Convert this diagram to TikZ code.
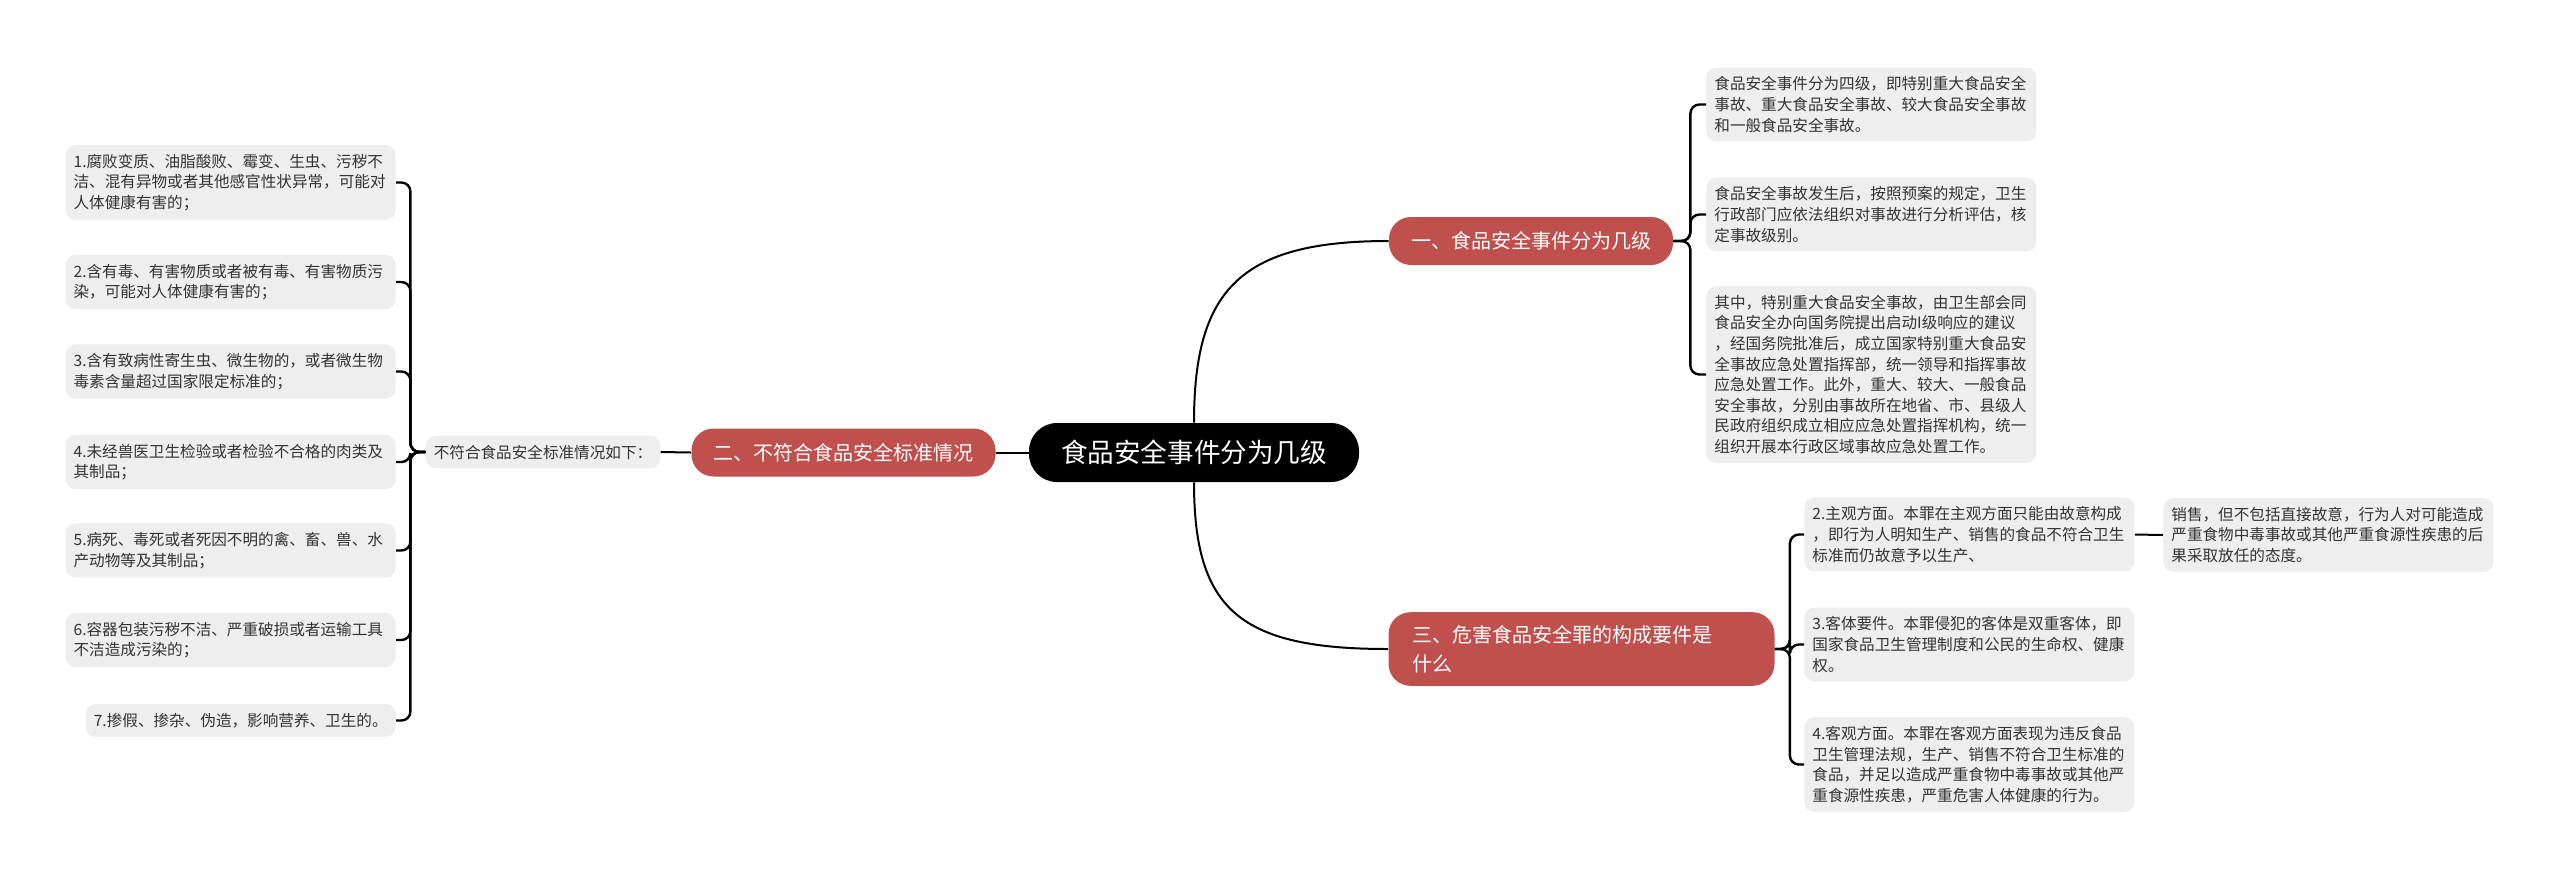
\documentclass[tikz,border=0pt]{standalone}
\usepackage{fontspec}
\setmainfont{Noto Sans CJK SC}
\usepackage{tikz}
\definecolor{branchbg}{HTML}{C0504D}
\definecolor{leafbg}{HTML}{EEEEEE}
\definecolor{leaftext}{HTML}{333333}

\begin{document}
\begin{tikzpicture}[x=0.5pt,y=0.5pt,
  link/.style={line width=1pt},
  bracket/.style={line width=1.2pt,rounded corners=4.5pt},
  rootbox/.style={fill=black,text=white,rounded corners=14pt,minimum height=29.5pt,
    inner xsep=16pt,font=\fontsize{13.3pt}{16pt}\selectfont},
  branchbox/.style={fill=branchbg,text=white,rounded corners=11pt,minimum height=24pt,
    inner xsep=11pt,font=\fontsize{10pt}{14.5pt}\selectfont},
  leafbox/.style={fill=leafbg,text=leaftext,rounded corners=5pt,inner xsep=4pt,
    inner ysep=4.5pt,font=\fontsize{7.8pt}{10.3pt}\selectfont},
  wideleaf/.style={leafbox,text width=157pt,align=left}]
\fill[white] (0,0) rectangle (2560,-880);
\useasboundingbox (0,0) rectangle (2560,-880);

% centre and the three topics
\node[rootbox] (root) at (1194,-452.5) {食品安全事件分为几级};
\node[branchbox] (b1) at (1531,-241) {一、食品安全事件分为几级};
\node[branchbox] (b2) at (843.5,-452.5) {二、不符合食品安全标准情况};
\node[branchbox,text width=169pt,align=left,inner xsep=12pt,inner ysep=6.5pt] (b3)
  at (1581.5,-649) {三、危害食品安全罪的构成要件是\\什么};

% topic one
\node[wideleaf,anchor=west] (e1) at (1706,-104.5) {食品安全事件分为四级，即特别重大食品安全\\事故、重大食品安全事故、较大食品安全事故\\和一般食品安全事故。};
\node[wideleaf,anchor=west] (e2) at (1706,-214.5) {食品安全事故发生后，按照预案的规定，卫生\\行政部门应依法组织对事故进行分析评估，核\\定事故级别。};
\node[wideleaf,anchor=west] (e3) at (1706,-374.5) {其中，特别重大食品安全事故，由卫生部会同\\食品安全办向国务院提出启动I级响应的建议\\，经国务院批准后，成立国家特别重大食品安\\全事故应急处置指挥部，统一领导和指挥事故\\应急处置工作。此外，重大、较大、一般食品\\安全事故，分别由事故所在地省、市、县级人\\民政府组织成立相应应急处置指挥机构，统一\\组织开展本行政区域事故应急处置工作。};

% topic two
\node[leafbox] (intro) at (543,-452) {不符合食品安全标准情况如下：};
\node[wideleaf,anchor=east] (s1) at (396,-182.5) {1.腐败变质、油脂酸败、霉变、生虫、污秽不\\洁、混有异物或者其他感官性状异常，可能对\\人体健康有害的；};
\node[wideleaf,anchor=east] (s2) at (396,-282) {2.含有毒、有害物质或者被有毒、有害物质污\\染，可能对人体健康有害的；};
\node[wideleaf,anchor=east] (s3) at (396,-371.5) {3.含有致病性寄生虫、微生物的，或者微生物\\毒素含量超过国家限定标准的；};
\node[wideleaf,anchor=east] (s4) at (396,-462) {4.未经兽医卫生检验或者检验不合格的肉类及\\其制品；};
\node[wideleaf,anchor=east] (s5) at (396,-550.5) {5.病死、毒死或者死因不明的禽、畜、兽、水\\产动物等及其制品；};
\node[wideleaf,anchor=east] (s6) at (396,-640) {6.容器包装污秽不洁、严重破损或者运输工具\\不洁造成污染的；};
\node[leafbox,anchor=east] (s7) at (396,-720.5) {7.掺假、掺杂、伪造，影响营养、卫生的。};

% topic three
\node[wideleaf,anchor=west] (t1) at (1804,-534.5) {2.主观方面。本罪在主观方面只能由故意构成\\，即行为人明知生产、销售的食品不符合卫生\\标准而仍故意予以生产、};
\node[wideleaf,anchor=west] (t1x) at (2163,-535) {销售，但不包括直接故意，行为人对可能造成\\严重食物中毒事故或其他严重食源性疾患的后\\果采取放任的态度。};
\node[wideleaf,anchor=west] (t2) at (1804,-644.5) {3.客体要件。本罪侵犯的客体是双重客体，即\\国家食品卫生管理制度和公民的生命权、健康\\权。};
\node[wideleaf,anchor=west] (t3) at (1804,-764.5) {4.客观方面。本罪在客观方面表现为违反食品\\卫生管理法规，生产、销售不符合卫生标准的\\食品，并足以造成严重食物中毒事故或其他严\\重食源性疾患，严重危害人体健康的行为。};

% connectors
\draw[link] (root.north) .. controls (1194,-290) and (1240,-241) .. (b1.west);
\draw[link] (root.south) .. controls (1194,-610) and (1240,-649) .. (b3.west);
\draw[link] (root.west) -- (b2.east);
\draw[link] (b2.west) -- (intro.east);
\foreach \n in {s1,s2,s3,s4,s5,s6,s7}
  \draw[bracket] (intro.west) -- ++(-15,0) |- (\n.east);
\foreach \n in {e1,e2,e3}
  \draw[bracket] (b1.east) -- ++(17,0) |- (\n.west);
\foreach \n in {t1,t2,t3}
  \draw[bracket] (b3.east) -- ++(15,0) |- (\n.west);
\draw[link] (t1.east) -- (t1x.west);
\end{tikzpicture}
\end{document}
